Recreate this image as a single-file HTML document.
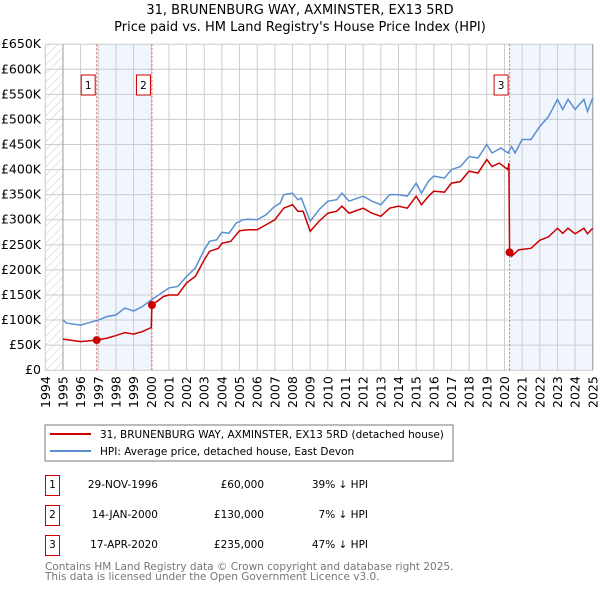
<!DOCTYPE html>
<html><head><meta charset="utf-8"><style>
body{margin:0;background:#fff;font-family:"DejaVu Sans","Liberation Sans",sans-serif;}
svg text{font-family:"DejaVu Sans","Liberation Sans",sans-serif;}
</style></head><body>
<svg id="c" width="600" height="590" xmlns="http://www.w3.org/2000/svg">
<defs><pattern id="hatch" width="6" height="6" patternUnits="userSpaceOnUse" patternTransform="rotate(45)"><line x1="0" y1="0" x2="0" y2="6" stroke="#ccc" stroke-width="1"/></pattern></defs>
<text x="300" y="14" text-anchor="middle" font-size="13" fill="#000">31, BRUNENBURG WAY, AXMINSTER, EX13 5RD</text>
<text x="300" y="31" text-anchor="middle" font-size="13" fill="#000">Price paid vs. HM Land Registry's House Price Index (HPI)</text>
<g id="plot"></g>
<rect x="45" y="425" width="408" height="36" fill="#fff" stroke="#777"/>
<line x1="50" y1="434" x2="91" y2="434" stroke="#cc0000" stroke-width="2"/>
<text x="100" y="438" font-size="10.5">31, BRUNENBURG WAY, AXMINSTER, EX13 5RD (detached house)</text>
<line x1="50" y1="451" x2="91" y2="451" stroke="#5b8fd0" stroke-width="2"/>
<text x="100" y="455" font-size="10.5">HPI: Average price, detached house, East Devon</text>
<g font-size="10.5">
<rect x="45.5" y="475.5" width="14" height="20" fill="#fff" stroke="#cc0000"/><text x="52.5" y="488" text-anchor="middle">1</text>
<text x="158" y="488" text-anchor="end">29-NOV-1996</text><text x="264" y="488" text-anchor="end">£60,000</text><text x="368" y="488" text-anchor="end">39% ↓ HPI</text>
<rect x="45.5" y="505.5" width="14" height="20" fill="#fff" stroke="#cc0000"/><text x="52.5" y="518" text-anchor="middle">2</text>
<text x="158" y="518" text-anchor="end">14-JAN-2000</text><text x="264" y="518" text-anchor="end">£130,000</text><text x="368" y="518" text-anchor="end">7% ↓ HPI</text>
<rect x="45.5" y="535.5" width="14" height="20" fill="#fff" stroke="#cc0000"/><text x="52.5" y="548" text-anchor="middle">3</text>
<text x="158" y="548" text-anchor="end">17-APR-2020</text><text x="264" y="548" text-anchor="end">£235,000</text><text x="368" y="548" text-anchor="end">47% ↓ HPI</text>
</g>
<text x="45" y="570" font-size="10.5" fill="#777">Contains HM Land Registry data © Crown copyright and database right 2025.</text>
<text x="45" y="580" font-size="10.5" fill="#777">This data is licensed under the Open Government Licence v3.0.</text>
</svg>
<script>
const yTicks=[0,50,100,150,200,250,300,350,400,450,500,550,600,650];
const yLabels=["£0","£50K","£100K","£150K","£200K","£250K","£300K","£350K","£400K","£450K","£500K","£550K","£600K","£650K"];
const years=[1994,1995,1996,1997,1998,1999,2000,2001,2002,2003,2004,2005,2006,2007,2008,2009,2010,2011,2012,2013,2014,2015,2016,2017,2018,2019,2020,2021,2022,2023,2024,2025];
const hpiT=[1995,1995.2,1996,1996.5,1997,1997.5,1998,1998.5,1999,1999.5,2000,2000.5,2001,2001.5,2002,2002.5,2003,2003.3,2003.7,2004,2004.4,2004.8,2005.2,2005.5,2006,2006.5,2007,2007.3,2007.5,2008,2008.3,2008.5,2009,2009.5,2010,2010.5,2010.8,2011.2,2012,2012.5,2013,2013.5,2014,2014.5,2015,2015.3,2015.7,2016,2016.6,2017,2017.5,2018,2018.5,2019,2019.3,2019.8,2020.2,2020.4,2020.6,2021,2021.5,2022,2022.5,2023,2023.3,2023.6,2024,2024.5,2024.7,2025];
const hpiV=[100,94,90,95,100,107,110,124,118,127,140,152,164,167,187,204,240,257,260,275,273,293,300,301,300,310,327,333,350,353,340,343,297,320,337,340,353,337,347,337,330,350,350,347,373,353,377,387,383,400,406,426,423,450,433,443,433,446,433,460,460,486,506,540,520,540,520,540,516,543];
const redT=[1995,1996,1996.91,1997.5,1998,1998.5,1999,1999.5,2000.0,2000.04,2000.7,2001,2001.5,2002,2002.5,2003,2003.3,2003.8,2004,2004.5,2005,2005.5,2006,2006.5,2007,2007.5,2008,2008.3,2008.6,2009,2009.5,2010,2010.5,2010.8,2011.2,2012,2012.5,2013,2013.5,2014,2014.5,2015,2015.3,2015.7,2016,2016.6,2017,2017.5,2018,2018.5,2019,2019.3,2019.7,2020.2,2020.25,2020.29,2020.4,2020.8,2021.5,2022,2022.5,2023,2023.3,2023.6,2024,2024.5,2024.7,2025];
const redV=[62,57,60,64,69,75,72,77,85,130,147,150,150,174,187,220,237,243,253,257,278,280,280,290,300,323,330,317,317,277,297,313,317,327,313,323,313,307,323,327,323,347,330,347,357,355,373,376,397,393,420,406,413,400,413,235,227,240,243,259,266,283,273,283,272,283,272,283];
const saleT=[1996.91,2000.04,2020.29];
const saleV=[60,130,235];
const saleLabels=["1","2","3"];
const X0=45.3,PX=17.66,Y0=370.2,PY=326/650;
const x=t=>X0+(t-1994)*PX, y=v=>Y0-v*PY;
const NS="http://www.w3.org/2000/svg";
const g=document.getElementById('plot');
function mk(tag,a,p){const e=document.createElementNS(NS,tag);for(const k in a)e.setAttribute(k,a[k]);(p||g).appendChild(e);return e;}
const topY=y(650), rightX=x(2025);
let e=mk('rect',{x:x(1994),y:topY,width:x(1995)-x(1994),height:Y0-topY,fill:'url(#hatch)'});


e=mk('rect',{x:x(saleT[0]),y:topY,width:x(saleT[1])-x(saleT[0]),height:Y0-topY,fill:'#eef3fc',opacity:0.8});


e=mk('rect',{x:x(saleT[2]),y:topY,width:rightX-x(saleT[2]),height:Y0-topY,fill:'#eef3fc',opacity:0.8});


yTicks.forEach((v,i)=>{
 e=mk('line',{x1:x(1994),x2:rightX,y1:y(v),y2:y(v),stroke:'#ccc','stroke-width':1});
 
 
 e=mk('text',{x:41,y:y(v)+4,'text-anchor':'end','font-size':'12.5'});e.textContent=yLabels[i];
 
 
});
years.forEach(yr=>{
 e=mk('line',{x1:x(yr),x2:x(yr),y1:topY,y2:Y0,stroke:yr===1995?'#999':'#ccc','stroke-width':1});
 
 
 e=mk('text',{x:0,y:0,'font-size':'12.5','text-anchor':'end',transform:`translate(${x(yr)+4.5},${Y0+6}) rotate(-90)`});e.textContent=yr;
 
 
});
e=mk('line',{x1:rightX,x2:rightX,y1:topY,y2:Y0,stroke:'#999'});


saleT.forEach((t,i)=>{
 e=mk('line',{x1:x(t),x2:x(t),y1:topY,y2:Y0,stroke:'#e06666','stroke-dasharray':'2,2','stroke-width':1});
 
 
});
e=mk('polyline',{points:hpiT.map((t,i)=>x(t)+','+y(hpiV[i])).join(' '),fill:'none',stroke:'#5b8fd0','stroke-width':1.5});


e=mk('polyline',{points:redT.map((t,i)=>x(t)+','+y(redV[i])).join(' '),fill:'none',stroke:'#cc0000','stroke-width':1.5});


saleT.forEach((t,i)=>{
 e=mk('circle',{cx:x(t),cy:y(saleV[i]),r:4,fill:'#cc0000'});
 
 
 const bx=x(t)-12, by=75;
 e=mk('rect',{x:bx-3.5,y:by,width:14,height:20,fill:'#fff',stroke:'#cc0000'});
 
 
 e=mk('text',{x:bx+3.5,y:by+14,'text-anchor':'middle','font-size':'10.5'});e.textContent=saleLabels[i];
 
 
});
</script>
</body></html>
